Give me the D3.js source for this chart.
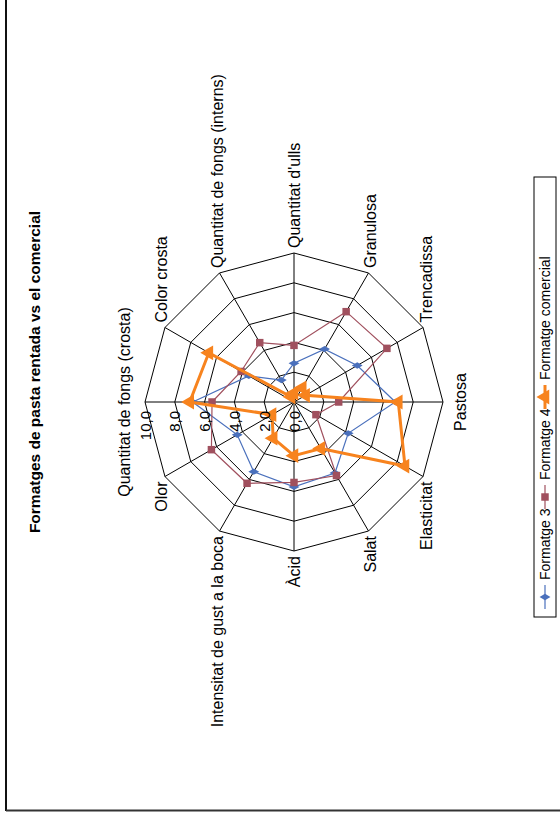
<!DOCTYPE html>
<html>
<head>
<meta charset="utf-8">
<script src="https://cdn.jsdelivr.net/npm/d3@7"></script>
<style>
  html, body { margin: 0; padding: 0; background: #fff; }
  svg { display: block; font-family: "Liberation Sans", Arial, sans-serif; }
</style>
</head>
<body>
<svg id="chart" width="560" height="821"></svg>
<script>
// Sensory attributes scored 0-10
const categories = [
  "Quantitat de fongs (crosta)",
  "Color crosta",
  "Quantitat de fongs  (interns)",
  "Quantitat d'ulls",
  "Granulosa",
  "Trencadissa",
  "Pastosa",
  "Elasticitat",
  "Salat",
  "Àcid",
  "Intensitat de gust a la boca",
  "Olor"
];
const formatge3 = [6.8, 3.5, 1.7, 2.6, 4.1, 4.9, 6.8, 4.2, 5.5, 5.7, 5.4, 4.4];
const formatge4 = [5.5, 4.1, 4.6, 3.8, 7.0, 7.2, 3.0, 1.7, 5.7, 5.4, 6.3, 6.4];
const comercial = [7.0, 6.6, 0.4, 0.6, 1.1, 0.9, 7.0, 8.6, 3.6, 3.6, 2.8, 1.7];
const tickValues = [0, 2, 4, 6, 8, 10];
const tickLabels = ["0,0", "2,0", "4,0", "6,0", "8,0", "10,0"];
const seriesNames = ["Formatge 3", "Formatge 4", "Formatge comercial"];

const series = [
  { name: seriesNames[0], values: formatge3, color: "#4A70BC", width: 1.2, symbol: d3.symbolDiamond, size: 34 },
  { name: seriesNames[1], values: formatge4, color: "#A0505E", width: 1.2, symbol: d3.symbolSquare, size: 56 },
  { name: seriesNames[2], values: comercial, color: "#F7831E", width: 3, symbol: d3.symbolTriangle, size: 95 }
];

const W = 560, H = 821;
const svg = d3.select("#chart");

// Outer frame (left and bottom edges visible)
svg.append("line").attr("x1", 6).attr("x2", 6).attr("y1", 0).attr("y2", 811)
  .attr("stroke", "#111").attr("stroke-width", 2);
svg.append("line").attr("x1", 6).attr("x2", W).attr("y1", 810.5).attr("y2", 810.5)
  .attr("stroke", "#333").attr("stroke-width", 2);

// The whole chart is laid out landscape and turned a quarter turn counter-clockwise
const g = svg.append("g").attr("transform", `translate(0,${H}) rotate(-90)`);

const cx = 419, cy = 294, R = 149;
const r = d3.scaleLinear().domain([0, 10]).range([0, R]);
const angle = d3.scaleLinear().domain([0, categories.length]).range([0, 2 * Math.PI]);
const px = (i, v) => cx + r(v) * Math.sin(angle(i));
const py = (i, v) => cy - r(v) * Math.cos(angle(i));

const plot = g.append("g");

// Grid rings
const ring = d3.lineRadial().angle((d, i) => angle(i)).radius(d => r(d)).curve(d3.curveLinearClosed);
tickValues.filter(t => t > 0).forEach(t => {
  plot.append("path")
    .attr("transform", `translate(${cx},${cy})`)
    .attr("d", ring(categories.map(() => t)))
    .attr("fill", "none").attr("stroke", "#000").attr("stroke-width", 1);
});

// Spokes
plot.selectAll("line.spoke").data(categories).join("line")
  .attr("class", "spoke")
  .attr("x1", cx).attr("y1", cy)
  .attr("x2", (d, i) => px(i, 10)).attr("y2", (d, i) => py(i, 10))
  .attr("stroke", "#000").attr("stroke-width", 1);

// Value tick labels along the first spoke
g.selectAll("text.tick").data(tickValues).join("text")
  .attr("class", "tick")
  .attr("x", cx - 9)
  .attr("y", d => cy - r(d))
  .attr("text-anchor", "end")
  .attr("dominant-baseline", "central")
  .attr("font-size", 15)
  .attr("fill", "#000")
  .text((d, i) => tickLabels[i]);

// Category labels
g.selectAll("text.cat").data(categories).join("text")
  .attr("class", "cat")
  .each(function(d, i) {
    const a = angle(i);
    const s = Math.sin(a), c = Math.cos(a);
    const t = d3.select(this);
    let x = px(i, 10), y = py(i, 10);
    let anchor = "middle", base = "central";
    if (s > 0.01) { anchor = "start"; x += 5; }
    else if (s < -0.01) { anchor = "end"; x -= 5; }
    if (Math.abs(s) < 0.01) {
      if (c > 0) { base = "auto"; y -= 15; }
      else { base = "hanging"; y += 12; }
    } else {
      y -= c * 4;
    }
    t.attr("x", x).attr("y", y)
      .attr("text-anchor", anchor)
      .attr("dominant-baseline", base);
  })
  .attr("font-size", 16)
  .attr("fill", "#000")
  .text(d => d);

// Series lines and markers
const radial = d3.lineRadial().angle((d, i) => angle(i)).radius(d => r(d)).curve(d3.curveLinearClosed);
series.forEach(s => {
  const sg = plot.append("g");
  sg.append("path")
    .attr("transform", `translate(${cx},${cy})`)
    .attr("d", radial(s.values))
    .attr("fill", "none")
    .attr("stroke", s.color)
    .attr("stroke-width", s.width)
    .attr("stroke-linejoin", "miter");
  sg.selectAll("path.mk").data(s.values).join("path")
    .attr("class", "mk")
    .attr("transform", (d, i) => `translate(${px(i, d)},${py(i, d)})`)
    .attr("d", d3.symbol().type(s.symbol).size(s.size))
    .attr("fill", s.color);
});

// Title
g.append("text")
  .attr("x", 449).attr("y", 40)
  .attr("text-anchor", "middle")
  .attr("font-size", 15.5)
  .attr("font-weight", "bold")
  .attr("fill", "#000")
  .text("Formatges de pasta rentada vs el comercial");

// Legend
const lg = g.append("g");
lg.append("rect").attr("x", 204).attr("y", 534).attr("width", 440).attr("height", 22)
  .attr("fill", "#fff").attr("stroke", "#000").attr("stroke-width", 1);
const legendX = d3.scaleLinear().domain([0, 1]).range([224, 324]);
series.forEach((s, i) => {
  const lx = legendX(i), ly = 545;
  lg.append("line").attr("x1", lx - 12).attr("x2", lx + 12).attr("y1", ly).attr("y2", ly)
    .attr("stroke", s.color).attr("stroke-width", s.width);
  lg.append("path").attr("transform", `translate(${lx},${ly})`)
    .attr("d", d3.symbol().type(s.symbol).size(s.size)).attr("fill", s.color);
  lg.append("text").attr("x", lx + 17).attr("y", ly)
    .attr("dominant-baseline", "central")
    .attr("font-size", 14).attr("fill", "#000")
    .text(s.name);
});
</script>
</body>
</html>
